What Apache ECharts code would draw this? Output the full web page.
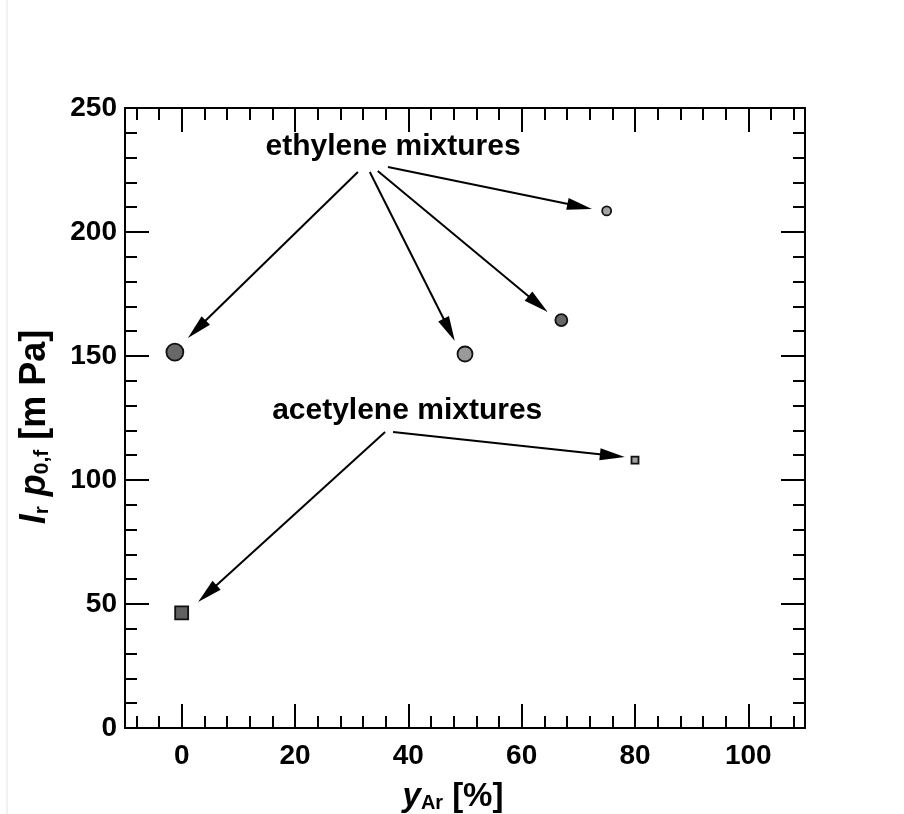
<!DOCTYPE html>
<html>
<head>
<meta charset="utf-8">
<script src="https://cdn.jsdelivr.net/npm/echarts@6/dist/echarts.min.js"></script>
<style>html,body{margin:0;padding:0;background:#fff;}#chart{width:904px;height:814px;}</style>
</head>
<body>
<div id="chart"></div>
<script>
// ---- data ----
const ethyleneX = [-1.2, 50, 67, 75];
const ethyleneY = [151.6, 150.8, 164.5, 208.5];
const acetyleneX = [0, 80];
const acetyleneY = [46.4, 108];

// annotation arrows (data coordinates: from x, from y, to x, to y)
const arrowFromX = [31.1, 33.2, 34.6, 36.4, 35.9, 37.3];
const arrowFromY = [224.2, 224.2, 224.6, 226.2, 119.4, 119.4];
const arrowToX = [1.1, 48.2, 64.6, 72.4, 2.9, 78.2];
const arrowToY = [157.3, 156.0, 167.7, 209.3, 50.8, 109.3];

const labelTexts = ['ethylene mixtures', 'acetylene mixtures'];
const labelX = [37.3, 39.8];
const labelY = [234.3, 127.8];

const xMajorTicks = [0, 20, 40, 60, 80, 100];
const xMinorTicks = [-8, -4, 0, 4, 8, 12, 16, 20, 24, 28, 32, 36, 40, 44, 48, 52, 56, 60, 64, 68, 72, 76, 80, 84, 88, 92, 96, 100, 104, 108];
const yMajorTicks = [0, 50, 100, 150, 200, 250];
const yMinorTicks = [0, 10, 20, 30, 40, 50, 60, 70, 80, 90, 100, 110, 120, 130, 140, 150, 160, 170, 180, 190, 200, 210, 220, 230, 240, 250];

// ---- styles ----
const ethSizes = [17, 15, 12, 9];
const ethColors = ['#686868', '#9a9a9a', '#686868', '#a4a4a4'];
const aceSizes = [13, 7];
const aceColors = ['#606060', '#a0a0a0'];

const FONT = '"Liberation Sans", Arial, Helvetica, sans-serif';
const X_MIN = -10, X_MAX = 110, Y_MIN = 0, Y_MAX = 250;

function xAxisDef(pos, major, showLine) {
  return {
    type: 'value', position: pos, min: X_MIN, max: X_MAX,
    axisLine: { show: showLine, onZero: false, lineStyle: { color: '#000', width: 2 } },
    axisTick: { show: true, inside: true, length: major ? 24 : 12, customValues: major ? xMajorTicks : xMinorTicks, lineStyle: { color: '#000', width: 2 } },
    axisLabel: (pos === 'bottom' && major) ? { show: true, customValues: xMajorTicks, fontSize: 28, fontWeight: 'bold', color: '#000', fontFamily: FONT, margin: 14 } : { show: false },
    splitLine: { show: false }
  };
}
function yAxisDef(pos, major, showLine) {
  return {
    type: 'value', position: pos, min: Y_MIN, max: Y_MAX,
    axisLine: { show: showLine, onZero: false, lineStyle: { color: '#000', width: 2 } },
    axisTick: { show: true, inside: true, length: major ? 24 : 12, customValues: major ? yMajorTicks : yMinorTicks, lineStyle: { color: '#000', width: 2 } },
    axisLabel: (pos === 'left' && major) ? { show: true, customValues: yMajorTicks, fontSize: 28, fontWeight: 'bold', color: '#000', fontFamily: FONT, margin: 8 } : { show: false },
    splitLine: { show: false }
  };
}

function nameRich(big, small, subPad) {
  return {
    i: { fontSize: big, fontWeight: 'bold', fontStyle: 'italic', fontFamily: FONT, color: '#000' },
    sub: { fontSize: small, fontWeight: 'bold', fontFamily: FONT, color: '#000', verticalAlign: 'bottom', padding: [subPad, 0, 0, 0] },
    n: { fontSize: big, fontWeight: 'bold', fontFamily: FONT, color: '#000' },
    s: { fontSize: big, fontFamily: FONT, color: '#000', width: Math.round(big * 0.28) }
  };
}

const xAxes = [xAxisDef('bottom', true, true), xAxisDef('bottom', false, false), xAxisDef('top', true, true), xAxisDef('top', false, false)];
xAxes[0].name = '{i|y}{sub|Ar}{s| }{n|[%]}';
xAxes[0].nameLocation = 'middle';
xAxes[0].nameGap = 52;
xAxes[0].nameTextStyle = { padding: [0, 24, 0, 0], rich: nameRich(33, 20, 8) };

const yAxes = [yAxisDef('left', true, true), yAxisDef('left', false, false), yAxisDef('right', true, true), yAxisDef('right', false, false)];
yAxes[0].name = '{i|I}{sub|r}{s| }{i|p}{sub|0,f}{s| }{n|[m Pa]}';
yAxes[0].nameLocation = 'middle';
yAxes[0].nameRotate = 90;
yAxes[0].nameGap = 72;
yAxes[0].nameTextStyle = { padding: [0, 18, 0, 0], rich: nameRich(36, 21, 15) };

const arrowData = arrowFromX.map((v, i) => [v, arrowFromY[i], arrowToX[i], arrowToY[i]]);
const textData = labelX.map((x, i) => [x, labelY[i], i]);

const chart = echarts.init(document.getElementById('chart'), null, { renderer: 'canvas' });
chart.setOption({
  animation: false,
  backgroundColor: '#fff',
  grid: { left: 125, top: 108, right: 99, bottom: 86, containLabel: false, outerBoundsMode: 'none' },
  xAxis: xAxes,
  yAxis: yAxes,
  graphic: [{ type: 'line', shape: { x1: 7, y1: 0, x2: 7, y2: 814 }, style: { stroke: '#e4e4e4', lineWidth: 1 }, silent: true }],
  series: [
    {
      type: 'custom', xAxisIndex: 0, yAxisIndex: 0, clip: false,
      data: arrowData,
      renderItem: function (params, api) {
        const p1 = api.coord([api.value(0), api.value(1)]);
        const p2 = api.coord([api.value(2), api.value(3)]);
        const dx = p2[0] - p1[0], dy = p2[1] - p1[1];
        const len = Math.sqrt(dx * dx + dy * dy);
        const ux = dx / len, uy = dy / len;
        const L = 25, W = 6;
        const bx = p2[0] - ux * L, by = p2[1] - uy * L;
        const px = -uy, py = ux;
        return {
          type: 'group',
          children: [
            { type: 'line', shape: { x1: p1[0], y1: p1[1], x2: bx + ux * 2, y2: by + uy * 2 }, style: { stroke: '#000', lineWidth: 2 } },
            { type: 'polygon', shape: { points: [[p2[0], p2[1]], [bx + px * W, by + py * W], [bx - px * W, by - py * W]] }, style: { fill: '#000' } }
          ]
        };
      }
    },
    {
      type: 'custom', xAxisIndex: 0, yAxisIndex: 0, clip: false,
      data: textData,
      renderItem: function (params, api) {
        const p = api.coord([api.value(0), api.value(1)]);
        return {
          type: 'text', x: p[0], y: p[1],
          style: { text: labelTexts[api.value(2)], fill: '#000', fontSize: 30, fontWeight: 'bold', fontFamily: FONT, align: 'center', verticalAlign: 'middle' }
        };
      }
    },
    {
      name: 'ethylene mixtures', type: 'scatter', xAxisIndex: 0, yAxisIndex: 0,
      symbol: 'circle',
      data: ethyleneX.map((x, i) => ({ value: [x, ethyleneY[i]], symbolSize: ethSizes[i], itemStyle: { color: ethColors[i] } })),
      itemStyle: { borderColor: '#111', borderWidth: 1.8, opacity: 1 }
    },
    {
      name: 'acetylene mixtures', type: 'scatter', xAxisIndex: 0, yAxisIndex: 0,
      symbol: 'rect',
      data: acetyleneX.map((x, i) => ({ value: [x, acetyleneY[i]], symbolSize: aceSizes[i], itemStyle: { color: aceColors[i] } })),
      itemStyle: { borderColor: '#111', borderWidth: 1.8, opacity: 1 }
    }
  ]
});
</script>
</body>
</html>
